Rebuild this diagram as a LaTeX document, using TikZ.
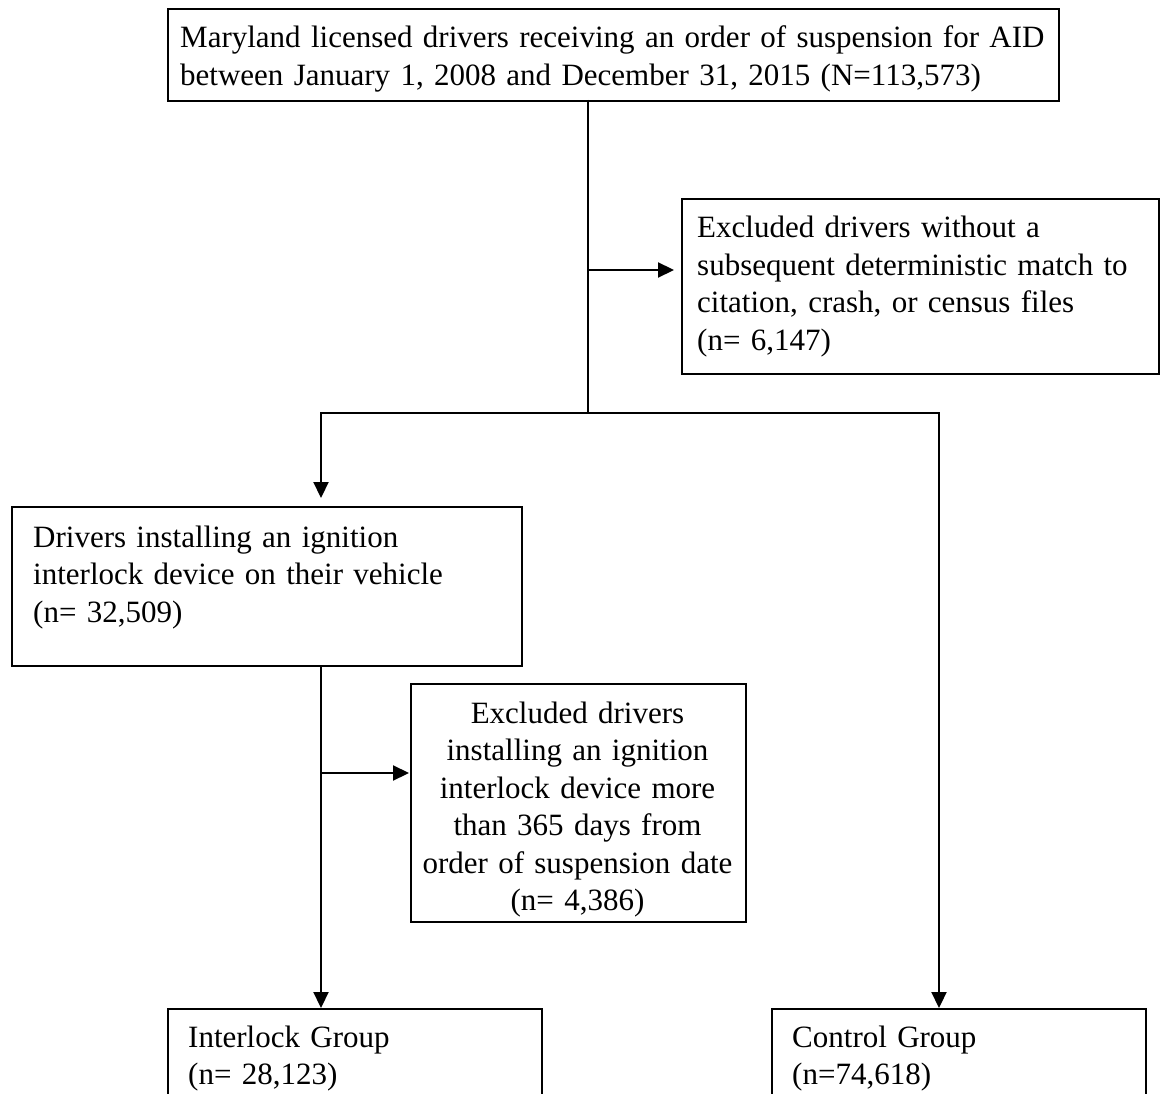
\documentclass[tikz,border=0pt]{standalone}
\usepackage{fontspec}
\setmainfont{Liberation Serif}
\usetikzlibrary{arrows.meta,calc}
\begin{document}
\begin{tikzpicture}[x=1pt,y=-1pt,
  box/.style={draw, line width=2.3pt, rectangle, inner sep=0pt, anchor=north west},
  txt/.style={font=\fontsize{31}{37.5}\selectfont, inner sep=0pt, align=left, text width=#1, anchor=base west},
  ctxt/.style={font=\fontsize{31}{37.5}\selectfont, inner sep=0pt, align=center, text width=#1, anchor=base,
    execute at begin node={\hyphenpenalty=10000}},
  conn/.style={line width=2.2pt},
  arr/.style={line width=2.2pt, -{Triangle[length=16pt,width=15pt]}}]
\clip (0,0) rectangle (1160,1094);
\fill[white] (0,0) rectangle (1160,1094);
% boxes
\node[box, minimum width=891pt, minimum height=92pt] (top) at (167,8) {};
\node[box, minimum width=477pt, minimum height=175pt] (excl1) at (681,198) {};
\node[box, minimum width=510pt, minimum height=159pt] (inst) at (11,506) {};
\node[box, minimum width=335pt, minimum height=238pt] (excl2) at (410,683) {};
\node[box, minimum width=374pt, minimum height=200pt] (ilg) at (167,1008) {};
\node[box, minimum width=374pt, minimum height=200pt] (ctl) at (771,1008) {};
% texts
\node[txt=885pt] (toptxt) at (180,48) {Maryland licensed drivers receiving an order of suspension for AID\\between January 1, 2008 and December 31, 2015 (N=113,573)};
\node[txt=455pt] (excl1txt) at (697,238) {Excluded drivers without a\\subsequent deterministic match to\\citation, crash, or census files\\(n= 6,147)};
\node[txt=470pt] (insttxt) at (33,547) {Drivers installing an ignition\\interlock device on their vehicle\\(n= 32,509)};
\node[ctxt=325pt] (excl2txt) at (577.5,723) {Excluded drivers\\installing an ignition\\interlock device more\\than 365 days from\\order of suspension date\\(n= 4,386)};
\node[txt=340pt] (ilgtxt) at (188,1047) {Interlock Group\\(n= 28,123)};
\node[txt=340pt] (ctltxt) at (792,1047) {Control Group\\(n=74,618)};
% connector points
\coordinate (c1) at (588,100);
\coordinate (c2) at (588,413);
\coordinate (cb) at (588,270);
\coordinate (sl) at (321,413);
\coordinate (sr) at (939,413);
\coordinate (ib) at (321,665);
\coordinate (ia) at (321,773);
% connectors
\draw[conn] (c1) -- (c2);
\draw[arr, shorten >=7pt] (cb) -- (cb -| excl1.west);
\draw[conn, line cap=rect] (sl) -- (sr);
\draw[arr, shorten >=8pt] (sl) -- (sl |- inst.north);
\draw[arr] (sr) -- (sr |- ctl.north);
\draw[arr] (ib) -- (ib |- ilg.north);
\draw[arr, shorten >=1pt] (ia) -- (ia -| excl2.west);
\end{tikzpicture}
\end{document}
